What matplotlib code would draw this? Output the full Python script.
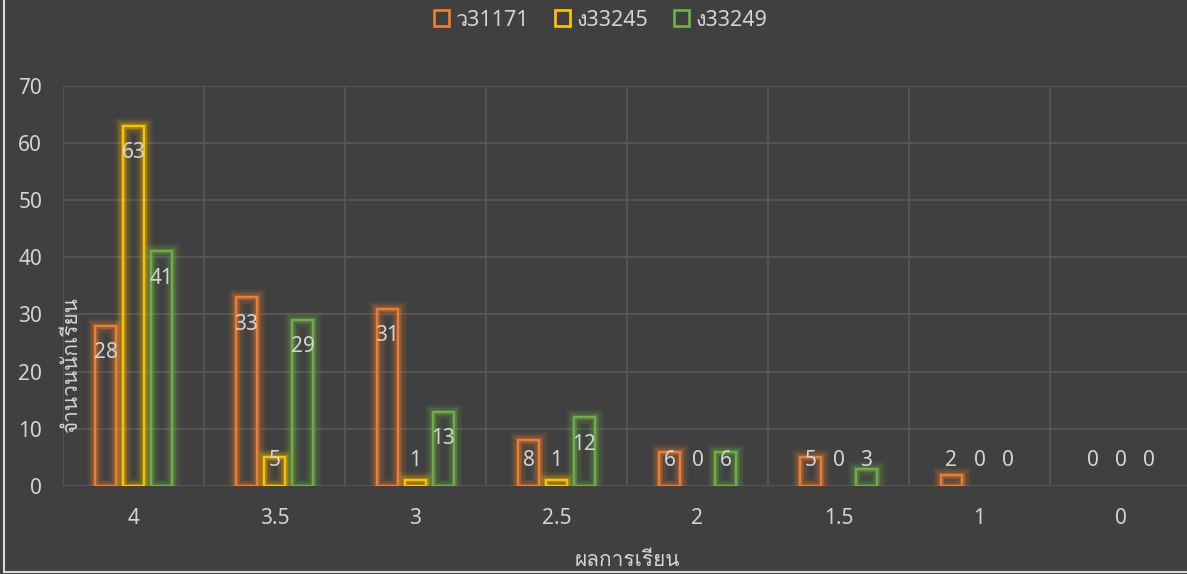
import numpy as np
import matplotlib
matplotlib.use('Agg')
import matplotlib.pyplot as plt
import matplotlib.patheffects as pe
from matplotlib import font_manager
from matplotlib.ft2font import FT2Font
from matplotlib.patches import Patch
from matplotlib.lines import Line2D

# data
categories = ['4', '3.5', '3', '2.5', '2', '1.5', '1', '0']
series_names = ['ว31171', 'ง33245', 'ง33249']
v31171 = [28, 33, 31, 8, 6, 5, 2, 0]
v33245 = [63, 5, 1, 1, 0, 0, 0, 0]
v33249 = [41, 29, 13, 12, 6, 3, 0, 0]
colors = ['#ED7D31', '#FFC000', '#70AD47']

BG = '#404040'
GRID = '#575757'
TEXT = '#d4d4d4'


def find_thai_font():
    """Return the name of an installed font that has Thai glyphs"""
    for f in font_manager.fontManager.ttflist:
        try:
            if 0x0E01 in FT2Font(f.fname).get_charmap():
                return f.name
        except Exception:
            pass
    return None


families = ['Noto Sans']
thai = find_thai_font()
if thai:
    families.append(thai)
families.append('DejaVu Sans')
plt.rcParams['font.family'] = families

fig = plt.figure(figsize=(11.87, 5.74), dpi=100, facecolor=BG)
ax = fig.add_axes([63 / 1187, 88 / 574, 1128 / 1187, 400.5 / 574])
ax.set_facecolor(BG)

x = np.arange(len(categories))
step = 0.1986
width = 0.152
glow = lambda c: [
    pe.Stroke(linewidth=12, foreground=c, alpha=0.07),
    pe.Stroke(linewidth=9, foreground=c, alpha=0.11),
    pe.Stroke(linewidth=6, foreground=c, alpha=0.17),
    pe.Stroke(linewidth=3.5, foreground=c, alpha=0.3),
    pe.Normal(),
]

for i, (vals, c) in enumerate(zip([v31171, v33245, v33249], colors)):
    pos = x + (i - 1) * step
    bars = ax.bar(pos, vals, width, facecolor='none', edgecolor=c,
                  linewidth=1.6, zorder=3)
    for b, v in zip(bars, vals):
        if v == 0:
            b.set_visible(False)
        else:
            b.set_path_effects(glow(c))
    for p, v in zip(pos, vals):
        ax.text(p, max(v - 4.7, 4.4), str(v), ha='center', va='center',
                color=TEXT, fontsize=15, zorder=5)

ax.set_xlim(-0.5, len(categories) - 0.5)
ax.set_ylim(0, 70)
ax.set_yticks(np.arange(0, 71, 10))
ax.set_xticks(x)
ax.set_xticklabels(categories)
ax.set_xticks(np.arange(-0.5, len(categories), 1), minor=True)
ax.tick_params(axis='both', which='both', length=0, colors=TEXT, labelsize=15)
ax.tick_params(axis='y', pad=15)
ax.tick_params(axis='x', pad=16)
ax.grid(axis='y', which='major', color=GRID, linewidth=1.3, zorder=0)
ax.grid(axis='x', which='minor', color=GRID, linewidth=1.3, zorder=0)
ax.grid(axis='x', which='major', visible=False)
for s in ax.spines.values():
    s.set_visible(False)

# axis titles
fig.text(72 / 1187, 1 - 365 / 574, 'จำนวนนักเรียน', rotation=90,
         ha='center', va='center', color=TEXT, fontsize=15)
fig.text(627 / 1187, 1 - 561 / 574, 'ผลการเรียน', ha='center', va='center',
         color=TEXT, fontsize=15)

# legend
handles = [Patch(facecolor='none', edgecolor=c, linewidth=2) for c in colors]
fig.legend(handles, series_names, loc='center', ncol=3, frameon=False,
           bbox_to_anchor=(601 / 1187, 1 - 20 / 574), fontsize=15.5,
           labelcolor=TEXT, handlelength=0.7, handleheight=0.7,
           handletextpad=0.3, columnspacing=1.2)

# thin light border on the left and bottom edges
fig.add_artist(Line2D([4 / 1187, 4 / 1187], [2 / 574, 1], transform=fig.transFigure,
                      color='#d9d9d9', linewidth=1.5))
fig.add_artist(Line2D([4 / 1187, 1], [2 / 574, 2 / 574], transform=fig.transFigure,
                      color='#d9d9d9', linewidth=1.5))

fig.savefig('out.png', dpi=100, facecolor=BG)
